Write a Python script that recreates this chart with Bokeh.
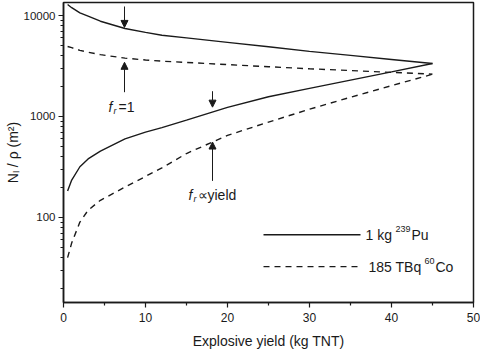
from math import log10
from bokeh.plotting import figure
from bokeh.models import FixedTicker, NumeralTickFormatter, Label, Arrow, NormalHead, Range1d
from bokeh.embed import file_html
from bokeh.resources import INLINE

# ---- data ----
yield_kg = [0.5, 1, 2, 3, 4.5, 7.5, 10, 12, 15, 20, 25, 30, 35, 40, 45]
pu_fr_const = [12850, 11950, 10600, 9840, 8780, 7430, 6800, 6380, 6000, 5420, 4900, 4415, 4030, 3670, 3350]
co_fr_const = [4930, 4800, 4520, 4330, 4100, 3780, 3630, 3530, 3430, 3265, 3110, 2970, 2850, 2735, 2630]
pu_fr_prop = [183, 235, 318, 380, 455, 600, 700, 775, 920, 1230, 1570, 1900, 2290, 2765, 3350]
co_fr_prop = [40, 56, 90, 118, 148, 200, 255, 310, 430, 650, 880, 1180, 1550, 2020, 2620]

x_major = [0, 10, 20, 30, 40, 50]
x_minor = [5, 15, 25, 35, 45]
y_major = [100, 1000, 10000]
y_minor = [m * d for d in (10, 100, 1000) for m in range(2, 10)]

series_labels = ["1 kg ", "239", "Pu", "185 TBq ", "60", "Co"]
x_title = "Explosive yield (kg TNT)"
y_title = "N\u2097 / \u03c1 (m\u00b2)"

X_LO, X_HI = 0, 50
Y_LO, Y_HI = 14.4, 13450

W, H = 480, 351
L, R, T, B = 63, 7, 2, 48
FW, FH = W - L - R, H - T - B

FONT = "Liberation Sans"
INK = "#1a1a1a"

p = figure(width=W, height=H, output_backend="svg", toolbar_location=None,
           y_axis_type="log",
           x_range=Range1d(X_LO, X_HI), y_range=Range1d(Y_LO, Y_HI),
           min_border_left=L, min_border_right=R, min_border_top=T, min_border_bottom=B)
p.background_fill_color = "white"
p.border_fill_color = "white"
p.grid.visible = False
p.outline_line_color = INK
p.outline_line_width = 1.5

# helpers for annotation placement (pixel -> data)
def dx(px):
    return X_LO + (px - L) / FW * (X_HI - X_LO)

def dy(py):
    return 10 ** (log10(Y_HI) - (py - T) / FH * (log10(Y_HI) - log10(Y_LO)))

# axes
for ax in (p.xaxis[0], p.yaxis[0]):
    ax.axis_line_color = INK
    ax.axis_line_width = 1.5
    ax.major_tick_line_color = INK
    ax.minor_tick_line_color = INK
    ax.major_tick_line_width = 1.2
    ax.minor_tick_line_width = 1.2
    ax.major_tick_in = 0
    ax.major_tick_out = 5
    ax.minor_tick_in = 0
    ax.minor_tick_out = 3
    ax.major_label_text_font = FONT
    ax.major_label_text_color = INK
    ax.axis_label_text_font = FONT
    ax.axis_label_text_font_style = "normal"
    ax.axis_label_text_color = INK

p.xaxis.ticker = FixedTicker(ticks=x_major, minor_ticks=x_minor)
p.yaxis.ticker = FixedTicker(ticks=y_major, minor_ticks=y_minor)
p.yaxis.formatter = NumeralTickFormatter(format="0")
p.xaxis.major_label_text_font_size = "12px"
p.yaxis.major_label_text_font_size = "11.5px"
p.xaxis.axis_label = x_title
p.xaxis.axis_label_text_font_size = "14px"
p.yaxis.axis_label = y_title
p.yaxis.axis_label_text_font_size = "14px"
p.xaxis.major_label_standoff = 5
p.xaxis.axis_label_standoff = 8
p.yaxis.major_label_standoff = 3
p.yaxis.axis_label_standoff = 0

# curves
p.line(yield_kg, pu_fr_const, line_color=INK, line_width=1.4)
p.line(yield_kg, pu_fr_prop, line_color=INK, line_width=1.4)
p.line(yield_kg, co_fr_const, line_color=INK, line_width=1.4, line_dash="6 5")
p.line(yield_kg, co_fr_prop, line_color=INK, line_width=1.4, line_dash="6 5")

# legend (drawn by hand)
p.line([dx(263), dx(360)], [dy(235), dy(235)], line_color=INK, line_width=1.4)
p.line([dx(263), dx(357)], [dy(267), dy(267)], line_color=INK, line_width=1.4, line_dash="6 5")

def lab(text, px, py, size, style="normal", baseline="middle"):
    p.add_layout(Label(x=dx(px), y=dy(py), text=text, text_font=FONT,
                       text_font_size=f"{size}px", text_font_style=style,
                       text_color=INK, text_align="left", text_baseline=baseline))

lab(series_labels[0], 365, 235, 14)
lab(series_labels[1], 395, 229, 9)
lab(series_labels[2], 411, 235, 14)
lab(series_labels[3], 368, 267, 14)
lab(series_labels[4], 424, 261, 9)
lab(series_labels[5], 435, 267, 14)

# annotations: f_r = 1 and f_r ∝ yield
lab("f", 108, 107, 14, "italic", "alphabetic")
lab("r", 113, 111, 9, "italic", "alphabetic")
lab("=1", 118, 107, 14, "normal", "alphabetic")
lab("f", 188, 195, 14, "italic", "alphabetic")
lab("r", 193, 199, 9, "italic", "alphabetic")
lab("\u221dyield", 197, 195, 14, "normal", "alphabetic")

def arrow(x, y0, y1):
    p.add_layout(Arrow(x_start=x, y_start=y0, x_end=x, y_end=y1,
                       line_color=INK, line_width=1,
                       end=NormalHead(size=7, fill_color=INK, line_color=INK, line_width=1)))

arrow(dx(124), dy(6), dy(27))
arrow(dx(124), dy(92), dy(62))
arrow(dx(212), dy(91), dy(107))
arrow(dx(212), dy(181), dy(142))

open("out.html", "w").write(file_html(p, INLINE))
